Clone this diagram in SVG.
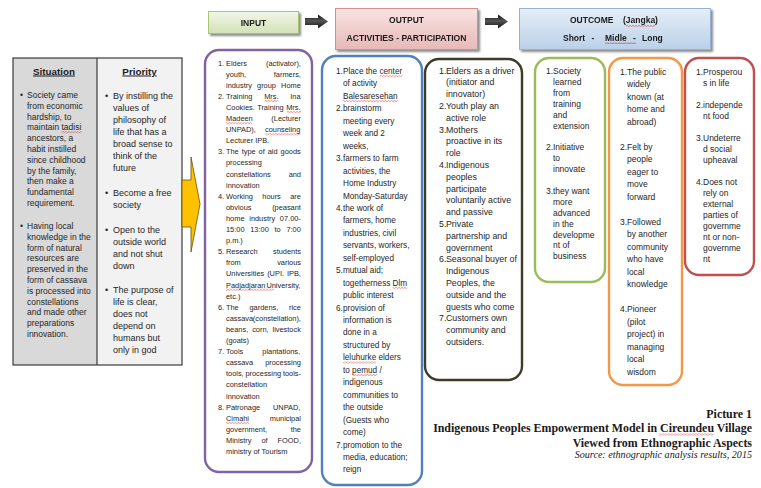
<svg xmlns="http://www.w3.org/2000/svg" width="761" height="488" viewBox="0 0 761 488">
  <defs>
    <style>
      .t { font-family: "Liberation Sans", Arial, sans-serif; fill: #262626; }
      .sit { font-size: 8.5px; }
      .pri { font-size: 9px; }
      .inp { font-size: 7.4px; }
      .o1 { font-size: 8.2px; }
      .o2 { font-size: 8.8px; }
      .oc { font-size: 8.5px; }
      .hd { font-family: "Liberation Sans", Arial, sans-serif; font-weight: bold; font-size: 8.5px; fill: #1a1a1a; }
      .colhd { font-family: "Liberation Sans", Arial, sans-serif; font-weight: bold; font-size: 9.8px; fill: #1a1a1a; text-decoration: underline; }
      .cap { font-family: "Liberation Serif", "Times New Roman", serif; font-weight: bold; font-size: 11.9px; fill: #1a1a1a; }
      .src { font-family: "Liberation Serif", "Times New Roman", serif; font-style: italic; font-size: 10.1px; fill: #1a1a1a; }
      .box { fill: #ffffff; stroke-width: 2.4; }
      .sq { fill: url(#squiggle); }
    </style>
    <linearGradient id="gGreen" x1="0" y1="0" x2="0" y2="1">
      <stop offset="0" stop-color="#f1f6e8"/>
      <stop offset="1" stop-color="#d3e2b6"/>
    </linearGradient>
    <linearGradient id="gRed" x1="0" y1="0" x2="0" y2="1">
      <stop offset="0" stop-color="#f8e4e3"/>
      <stop offset="1" stop-color="#e7b9b7"/>
    </linearGradient>
    <linearGradient id="gBlue" x1="0" y1="0" x2="0" y2="1">
      <stop offset="0" stop-color="#e6eef8"/>
      <stop offset="1" stop-color="#bad0e8"/>
    </linearGradient>
    <linearGradient id="gArrow" x1="0" y1="0" x2="0" y2="1">
      <stop offset="0" stop-color="#111"/>
      <stop offset="0.45" stop-color="#555"/>
      <stop offset="1" stop-color="#111"/>
    </linearGradient>
    <filter id="shadow" x="-10%" y="-20%" width="130%" height="160%">
      <feGaussianBlur in="SourceAlpha" stdDeviation="1.2"/>
      <feOffset dx="1.5" dy="2" result="b"/>
      <feComponentTransfer><feFuncA type="linear" slope="0.45"/></feComponentTransfer>
      <feMerge><feMergeNode/><feMergeNode in="SourceGraphic"/></feMerge>
    </filter>
    <pattern id="squiggle" width="3" height="2" patternUnits="userSpaceOnUse">
      <path d="M0 1.6 L1.5 0.4 L3 1.6" fill="none" stroke="#e03030" stroke-width="0.6"/>
    </pattern>
    <path id="blockArrow" d="M0 3.5 H13 V0 L23 7 L13 14 V10.5 H0 Z"/>
  </defs>

  <rect width="761" height="488" fill="#ffffff"/>

  <!-- Situation / Priority table -->
  <g id="situation-priority">
    <rect x="13" y="58" width="84" height="307" fill="#d9d9d9"/>
    <rect x="97" y="58" width="85" height="307" fill="#f2f2f2"/>
    <rect x="13" y="58" width="169" height="307" fill="none" stroke="#3a3a3a" stroke-width="1.2"/>
    <line x1="97" y1="58" x2="97" y2="365" stroke="#3a3a3a" stroke-width="1.2"/>
    <text class="colhd" x="54" y="74.5" text-anchor="middle">Situation</text>
    <text class="colhd" x="139.5" y="74.5" text-anchor="middle">Priority</text>
    <g class="t sit">
      <text x="20" y="98">•</text>
      <text x="27" y="98">Society came</text>
      <text x="27" y="108.8">from economic</text>
      <text x="27" y="119.6">hardship, to</text>
      <text x="27" y="130.4">maintain tadisi</text>
      <text x="27" y="141.2">ancestors, a</text>
      <text x="27" y="152">habit instilled</text>
      <text x="27" y="162.8">since childhood</text>
      <text x="27" y="173.6">by the family,</text>
      <text x="27" y="184.4">then make a</text>
      <text x="27" y="195.2">fundamental</text>
      <text x="27" y="206">requirement.</text>
      <text x="20" y="229">•</text>
      <text x="27" y="229">Having local</text>
      <text x="27" y="239.8">knowledge in the</text>
      <text x="27" y="250.6">form of natural</text>
      <text x="27" y="261.4">resources are</text>
      <text x="27" y="272.2">preserved in the</text>
      <text x="27" y="283">form of cassava</text>
      <text x="27" y="293.8">is processed into</text>
      <text x="27" y="304.6">constellations</text>
      <text x="27" y="315.4">and made other</text>
      <text x="27" y="326.2">preparations</text>
      <text x="27" y="337">innovation.</text>
    </g>
    <rect class="sq" x="61.5" y="131.2" width="20" height="2"/>
    <g class="t pri">
      <text x="105" y="99">•</text>
      <text x="113" y="99">By instilling the</text>
      <text x="113" y="111">values of</text>
      <text x="113" y="123">philosophy of</text>
      <text x="113" y="135">life that has a</text>
      <text x="113" y="147">broad sense to</text>
      <text x="113" y="159">think of the</text>
      <text x="113" y="171">future</text>
      <text x="105" y="196">•</text>
      <text x="113" y="196">Become a free</text>
      <text x="113" y="208">society</text>
      <text x="105" y="233">•</text>
      <text x="113" y="233">Open to the</text>
      <text x="113" y="245">outside world</text>
      <text x="113" y="257">and not shut</text>
      <text x="113" y="269">down</text>
      <text x="105" y="293">•</text>
      <text x="113" y="293">The purpose of</text>
      <text x="113" y="305">life is clear,</text>
      <text x="113" y="317">does not</text>
      <text x="113" y="329">depend on</text>
      <text x="113" y="341">humans but</text>
      <text x="113" y="353">only in god</text>
    </g>
  </g>

  <!-- Header boxes -->
  <g id="input-header" filter="url(#shadow)">
    <rect x="208.5" y="11.5" width="90" height="22" fill="url(#gGreen)" stroke="#a9c56f" stroke-width="1"/>
    <text class="hd" x="253.5" y="25.5" text-anchor="middle" font-size="9">INPUT</text>
  </g>
  <g id="output-header" filter="url(#shadow)">
    <rect x="335.5" y="8.5" width="142" height="41" fill="url(#gRed)" stroke="#d48f8c" stroke-width="1"/>
    <text class="hd" x="406.5" y="23" text-anchor="middle">OUTPUT</text>
    <text class="hd" x="406.5" y="41" text-anchor="middle" font-size="8.3" textLength="120" lengthAdjust="spacingAndGlyphs">ACTIVITIES - PARTICIPATION</text>
  </g>
  <g id="outcome-header" filter="url(#shadow)">
    <rect x="519.5" y="8.5" width="191" height="41" fill="url(#gBlue)" stroke="#95b3d7" stroke-width="1"/>
    <text class="hd" x="570" y="23">OUTCOME</text>
    <text class="hd" x="623" y="23">(Jangka)</text>
    <text class="hd" x="563" y="41">Short</text>
    <text class="hd" x="591.5" y="41">-</text>
    <text class="hd" x="605" y="41">Midle</text>
    <text class="hd" x="633" y="41">-</text>
    <text class="hd" x="642" y="41">Long</text>
    <rect class="sq" x="626" y="25" width="29" height="2"/>
    <rect x="605" y="42.8" width="31" height="0.8" fill="#d04040" opacity="0.8"/>
  </g>

  <!-- Connectors -->
  <g id="connectors">
    <polygon points="182,180 191,180 191,157 200,204 191,252 191,227 182,227" fill="#ffc000" stroke="#6b5200" stroke-width="0.8" stroke-linejoin="miter"/>
    <use href="#blockArrow" x="305" y="14.5" fill="url(#gArrow)"/>
    <use href="#blockArrow" x="485" y="14.5" fill="url(#gArrow)"/>
  </g>

  <!-- INPUT list (justified lines use word spacing) -->
  <g id="input">
    <rect class="box" x="205" y="50" width="107" height="422" rx="14" stroke="#8064a2"/>
    <g class="t inp">
      <text x="218" y="65.5">1.</text>
      <text x="226" y="65.5" style="word-spacing:17px">Elders (activator),</text>
      <text x="226" y="76.6" style="word-spacing:25.6px">youth, farmers,</text>
      <text x="226" y="87.7" style="word-spacing:3.1px">industry group Home</text>
      <text x="218" y="98.8">2.</text>
      <text x="226" y="98.8" style="word-spacing:9.7px">Training Mrs. Ina</text>
      <text x="226" y="109.9" style="word-spacing:0.5px">Cookies. Training Mrs.</text>
      <text x="226" y="121" style="word-spacing:16.6px">Madeen (Lecturer</text>
      <text x="226" y="132.1" style="word-spacing:7.1px">UNPAD), counseling</text>
      <text x="226" y="143.2">Lecturer IPB.</text>
      <text x="218" y="154.3">3.</text>
      <text x="226" y="154.3" style="word-spacing:0.9px">The type of aid goods</text>
      <text x="226" y="165.4">processing</text>
      <text x="226" y="176.5" style="word-spacing:15.8px">constellations and</text>
      <text x="226" y="187.6">innovation</text>
      <text x="218" y="198.7">4.</text>
      <text x="226" y="198.7" style="word-spacing:7.3px">Working hours are</text>
      <text x="226" y="209.8" style="word-spacing:18.6px">obvious (peasant</text>
      <text x="226" y="220.9" style="word-spacing:2.7px">home industry 07.00-</text>
      <text x="226" y="232" style="word-spacing:3.7px">15:00 13:00 to 7:00</text>
      <text x="226" y="243.1">p.m.)</text>
      <text x="218" y="254.2">5.</text>
      <text x="226" y="254.2" style="word-spacing:13.3px">Research students</text>
      <text x="226" y="265.3" style="word-spacing:34.3px">from various</text>
      <text x="226" y="276.4" style="word-spacing:0.9px">Universities (UPI. IPB,</text>
      <text x="226" y="287.5" style="word-spacing:-1.1px">Padjadjaran University,</text>
      <text x="226" y="298.6">etc.)</text>
      <text x="218" y="309.7">6.</text>
      <text x="226" y="309.7" style="word-spacing:8.7px">The gardens, rice</text>
      <text x="226" y="320.8" style="word-spacing:-2.3px">cassava (constellation),</text>
      <text x="226" y="331.9" style="word-spacing:1.9px">beans, corn, livestock</text>
      <text x="226" y="343">(goats)</text>
      <text x="218" y="354.1">7.</text>
      <text x="226" y="354.1" style="word-spacing:17px">Tools plantations,</text>
      <text x="226" y="365.2" style="word-spacing:10px">cassava processing</text>
      <text x="226" y="376.3" style="word-spacing:-0.3px">tools, processing tools-</text>
      <text x="226" y="387.4">constellation</text>
      <text x="226" y="398.5">innovation</text>
      <text x="218" y="409.6">8.</text>
      <text x="226" y="409.6" style="word-spacing:10.8px">Patronage UNPAD,</text>
      <text x="226" y="420.7" style="word-spacing:18.7px">Cimahi municipal</text>
      <text x="226" y="431.8" style="word-spacing:21.5px">government, the</text>
      <text x="226" y="442.9" style="word-spacing:7.9px">Ministry of FOOD,</text>
      <text x="226" y="454">ministry of Tourism</text>
    </g>
    <rect class="sq" x="264.5" y="100" width="14" height="2"/>
    <rect class="sq" x="287" y="111" width="14" height="2"/>
    <rect class="sq" x="226" y="122.2" width="26" height="2"/>
    <rect class="sq" x="265.5" y="133.3" width="35" height="2"/>
    <rect class="sq" x="226" y="288.7" width="48" height="2"/>
    <rect class="sq" x="226" y="421.9" width="23" height="2"/>
  </g>

  <!-- OUTPUT: activities -->
  <g id="output-activities">
    <rect class="box" x="322" y="56" width="100" height="429" rx="14" stroke="#4f81bd"/>
    <g class="t o1">
      <text x="336" y="74">1.</text><text x="343" y="74">Place the center</text>
      <text x="343" y="86.45">of activity</text>
      <text x="343" y="98.9">Balesaresehan</text>
      <text x="336" y="111.35">2.</text><text x="343" y="111.35">brainstorm</text>
      <text x="343" y="123.8">meeting every</text>
      <text x="343" y="136.25">week and 2</text>
      <text x="343" y="148.7">weeks,</text>
      <text x="336" y="161.15">3.</text><text x="343" y="161.15">farmers to farm</text>
      <text x="343" y="173.6">activities, the</text>
      <text x="343" y="186.05">Home Industry</text>
      <text x="343" y="198.5">Monday-Saturday</text>
      <text x="336" y="210.95">4.</text><text x="343" y="210.95">the work of</text>
      <text x="343" y="223.4">farmers, home</text>
      <text x="343" y="235.85">industries, civil</text>
      <text x="343" y="248.3">servants, workers,</text>
      <text x="343" y="260.75">self-employed</text>
      <text x="336" y="273.2">5.</text><text x="343" y="273.2">mutual aid;</text>
      <text x="343" y="285.65">togetherness Dlm</text>
      <text x="343" y="298.1">public interest</text>
      <text x="336" y="310.55">6.</text><text x="343" y="310.55">provision of</text>
      <text x="343" y="323">information is</text>
      <text x="343" y="335.45">done in a</text>
      <text x="343" y="347.9">structured by</text>
      <text x="343" y="360.35">leluhurke elders</text>
      <text x="343" y="372.8">to pemud /</text>
      <text x="343" y="385.25">indigenous</text>
      <text x="343" y="397.7">communities to</text>
      <text x="343" y="410.15">the outside</text>
      <text x="343" y="422.6">(Guests who</text>
      <text x="343" y="435.05">come)</text>
      <text x="336" y="447.5">7.</text><text x="343" y="447.5">promotion to the</text>
      <text x="343" y="459.95">media, education;</text>
      <text x="343" y="472.4">reign</text>
    </g>
    <rect class="sq" x="379.5" y="75.2" width="23" height="2"/>
    <rect class="sq" x="343" y="100.1" width="55" height="2"/>
    <rect class="sq" x="392.7" y="286.8" width="14.6" height="2"/>
    <rect class="sq" x="343" y="361.5" width="33" height="2"/>
    <rect class="sq" x="352" y="374" width="25" height="2"/>
  </g>

  <!-- OUTPUT: participation -->
  <g id="output-participation">
    <rect class="box" x="425" y="59" width="97" height="321" rx="14" stroke="#3f3b27"/>
    <g class="t o2">
      <text x="439" y="73.5">1.</text><text x="446" y="73.5">Elders as a driver</text>
      <text x="446" y="85.3">(initiator and</text>
      <text x="446" y="97.1">innovator)</text>
      <text x="439" y="108.9">2.</text><text x="446" y="108.9">Youth play an</text>
      <text x="446" y="120.7">active role</text>
      <text x="439" y="132.5">3.</text><text x="446" y="132.5">Mothers</text>
      <text x="446" y="144.3">proactive in its</text>
      <text x="446" y="156.1">role</text>
      <text x="439" y="167.9">4.</text><text x="446" y="167.9">Indigenous</text>
      <text x="446" y="179.7">peoples</text>
      <text x="446" y="191.5">participate</text>
      <text x="446" y="203.3">voluntarily active</text>
      <text x="446" y="215.1">and passive</text>
      <text x="439" y="226.9">5.</text><text x="446" y="226.9">Private</text>
      <text x="446" y="238.7">partnership and</text>
      <text x="446" y="250.5">government</text>
      <text x="439" y="262.3">6.</text><text x="446" y="262.3">Seasonal buyer of</text>
      <text x="446" y="274.1">Indigenous</text>
      <text x="446" y="285.9">Peoples, the</text>
      <text x="446" y="297.7">outside and the</text>
      <text x="446" y="309.5">guests who come</text>
      <text x="439" y="321.3">7.</text><text x="446" y="321.3">Customers own</text>
      <text x="446" y="333.1">community and</text>
      <text x="446" y="344.9">outsiders.</text>
    </g>
  </g>

  <!-- OUTCOME: short term -->
  <g id="outcome-short">
    <rect class="box" x="535" y="58" width="70" height="224" rx="14" stroke="#9bbb59"/>
    <g class="t oc">
      <text x="546" y="74">1.</text><text x="553" y="74">Society</text>
      <text x="553" y="84.9">learned</text>
      <text x="553" y="95.8">from</text>
      <text x="553" y="106.7">training</text>
      <text x="553" y="117.6">and</text>
      <text x="553" y="128.5">extension</text>
      <text x="546" y="150.3">2.</text><text x="553" y="150.3">Initiative</text>
      <text x="553" y="161.2">to</text>
      <text x="553" y="172.1">innovate</text>
      <text x="546" y="193.9">3.</text><text x="553" y="193.9">they want</text>
      <text x="553" y="204.8">more</text>
      <text x="553" y="215.7">advanced</text>
      <text x="553" y="226.6">in the</text>
      <text x="553" y="237.5">developme</text>
      <text x="553" y="248.4">nt of</text>
      <text x="553" y="259.3">business</text>
    </g>
  </g>

  <!-- OUTCOME: middle term -->
  <g id="outcome-middle">
    <rect class="box" x="609" y="58" width="73" height="327" rx="14" stroke="#f79646"/>
    <g class="t oc">
      <text x="620" y="74.7">1.</text><text x="627" y="74.7">The public</text>
      <text x="627" y="87.2">widely</text>
      <text x="627" y="99.7">known (at</text>
      <text x="627" y="112.2">home and</text>
      <text x="627" y="124.7">abroad)</text>
      <text x="620" y="149.7">2.</text><text x="627" y="149.7">Felt by</text>
      <text x="627" y="162.2">people</text>
      <text x="627" y="174.7">eager to</text>
      <text x="627" y="187.2">move</text>
      <text x="627" y="199.7">forward</text>
      <text x="620" y="224.7">3.</text><text x="627" y="224.7">Followed</text>
      <text x="627" y="237.2">by another</text>
      <text x="627" y="249.7">community</text>
      <text x="627" y="262.2">who have</text>
      <text x="627" y="274.7">local</text>
      <text x="627" y="287.2">knowledge</text>
      <text x="620" y="312.2">4.</text><text x="627" y="312.2">Pioneer</text>
      <text x="627" y="324.7">(pilot</text>
      <text x="627" y="337.2">project) in</text>
      <text x="627" y="349.7">managing</text>
      <text x="627" y="362.2">local</text>
      <text x="627" y="374.7">wisdom</text>
    </g>
  </g>

  <!-- OUTCOME: long term -->
  <g id="outcome-long">
    <rect class="box" x="685" y="58" width="69" height="217" rx="14" stroke="#c0504d"/>
    <g class="t oc">
      <text x="696" y="75.3">1.</text><text x="703" y="75.3">Prosperou</text>
      <text x="703" y="86.3">s in life</text>
      <text x="696" y="108.3">2.</text><text x="703" y="108.3">independe</text>
      <text x="703" y="119.3">nt food</text>
      <text x="696" y="141.3">3.</text><text x="703" y="141.3">Undeterre</text>
      <text x="703" y="152.3">d social</text>
      <text x="703" y="163.3">upheaval</text>
      <text x="696" y="185.3">4.</text><text x="703" y="185.3">Does not</text>
      <text x="703" y="196.3">rely on</text>
      <text x="703" y="207.3">external</text>
      <text x="703" y="218.3">parties of</text>
      <text x="703" y="229.3">governme</text>
      <text x="703" y="240.3">nt or non-</text>
      <text x="703" y="251.3">governme</text>
      <text x="703" y="262.3">nt</text>
    </g>
  </g>

  <!-- Caption -->
  <g id="caption">
    <text class="cap" x="752" y="418" text-anchor="end">Picture 1</text>
    <text class="cap" x="752" y="432" text-anchor="end">Indigenous Peoples Empowerment Model in Cireundeu Village</text>
    <text class="cap" x="752" y="446.5" text-anchor="end">Viewed from Ethnographic Aspects</text>
    <text class="src" x="752" y="458" text-anchor="end">Source: ethnographic analysis results, 2015</text>
    <rect class="sq" x="659" y="433.5" width="54" height="2"/>
  </g>
</svg>
